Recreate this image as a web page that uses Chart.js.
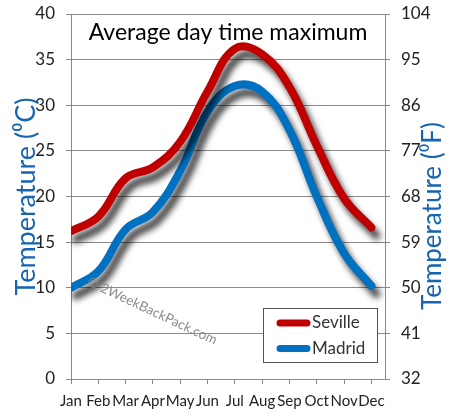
<!DOCTYPE html>
<html>
<head>
<meta charset="utf-8">
<script src="https://cdn.jsdelivr.net/npm/chart.js@4/dist/chart.umd.min.js"></script>
<style>
  html, body { margin: 0; padding: 0; background: #fff; }
  #wrap { width: 450px; height: 420px; }
</style>
</head>
<body>
<div id="wrap"><canvas id="c" width="450" height="420"></canvas></div>
<script>
const months = ['Jan','Feb','Mar','Apr','May','Jun','Jul','Aug','Sep','Oct','Nov','Dec'];
const seville = [16.2, 17.8, 22.0, 23.2, 26.0, 31.5, 36.2, 35.6, 32.0, 25.6, 19.8, 16.6];
const madrid = [10.0, 11.8, 16.4, 18.3, 22.8, 29.3, 32.1, 31.5, 27.3, 20.0, 13.8, 10.2];
const seriesNames = ['Seville', 'Madrid'];
const chartTitle = 'Average day time maximum';
const leftAxisTitle = 'Temperature (\u2070C)';
const rightAxisTitle = 'Temperature (\u2070F)';
const watermark = '\u00A9 2WeekBackPack.com';

const FONT = 'Lato';
const RED = '#C00000';
const BLUE = '#0070C0';
const GRID = '#8a8a8a';
const TXT = '#222';
const AXT = '#1565B0';

const toPts = arr => arr.map((v, i) => ({ x: i, y: v }));

const shadowPlugin = {
  id: 'shadow',
  beforeDatasetDraw(chart) {
    const ctx = chart.ctx;
    ctx.save();
    ctx.shadowColor = 'rgba(0,0,0,0.75)';
    ctx.shadowBlur = 6;
    ctx.shadowOffsetX = 5;
    ctx.shadowOffsetY = 8;
  },
  afterDatasetDraw(chart) { chart.ctx.restore(); }
};

const decorPlugin = {
  id: 'decor',
  afterDraw(chart) {
    const ctx = chart.ctx;
    // right axis title, reading bottom to top
    ctx.save();
    ctx.translate(433, 216);
    ctx.rotate(-Math.PI / 2);
    ctx.font = '26px ' + FONT;
    ctx.fillStyle = AXT;
    ctx.textAlign = 'center';
    ctx.textBaseline = 'middle';
    ctx.fillText(rightAxisTitle, 0, 0);
    ctx.restore();
  },
  afterDatasetsDraw(chart) {
    const ctx = chart.ctx, a = chart.chartArea;
    // watermark
    ctx.save();
    ctx.translate(88, 281);
    ctx.rotate(25 * Math.PI / 180);
    ctx.font = '13.5px ' + FONT;
    ctx.fillStyle = '#8c8c8c';
    ctx.textBaseline = 'middle';
    ctx.fillText(watermark, 0, 0);
    ctx.restore();
    // title
    ctx.save();
    ctx.font = '23px ' + FONT;
    ctx.fillStyle = '#000';
    ctx.textAlign = 'center';
    ctx.textBaseline = 'middle';
    ctx.fillText(chartTitle, (a.left + a.right) / 2, a.top + 19);
    ctx.restore();
    // legend box
    const bx = 263, by = 308, bw = 114, bh = 54;
    ctx.save();
    ctx.fillStyle = '#fff';
    ctx.fillRect(bx, by, bw, bh);
    ctx.strokeStyle = '#555';
    ctx.lineWidth = 1;
    ctx.strokeRect(bx + 0.5, by + 0.5, bw, bh);
    chart.data.datasets.forEach((ds, i) => {
      const y = by + 15 + i * 25.5;
      ctx.strokeStyle = ds.borderColor;
      ctx.lineWidth = 7;
      ctx.lineCap = 'round';
      ctx.beginPath();
      ctx.moveTo(bx + 17, y);
      ctx.lineTo(bx + 44, y);
      ctx.stroke();
      ctx.fillStyle = '#333';
      ctx.font = '17px ' + FONT;
      ctx.textBaseline = 'middle';
      ctx.fillText(ds.label, bx + 49, y);
    });
    ctx.restore();
  }
};

const fitY = w => s => { s.width = w; s.paddingTop = 0; s.paddingBottom = 0; };

new Chart(document.getElementById('c'), {
  type: 'line',
  data: {
    datasets: [
      { label: seriesNames[0], data: toPts(seville), borderColor: RED, yAxisID: 'y' },
      { label: seriesNames[1], data: toPts(madrid), borderColor: BLUE, yAxisID: 'y' }
    ]
  },
  options: {
    responsive: false,
    animation: false,
    devicePixelRatio: 1,
    layout: { padding: { top: 14, left: 0, right: 0, bottom: 0 } },
    elements: {
      line: { borderWidth: 8, tension: 0.4, borderCapStyle: 'round', borderJoinStyle: 'round', fill: false },
      point: { radius: 0, hoverRadius: 0 }
    },
    plugins: { legend: { display: false }, tooltip: { enabled: false }, title: { display: false } },
    scales: {
      x: {
        type: 'linear', min: 0, max: 11.5,
        afterFit: s => { s.height = 41; s.paddingLeft = 0; s.paddingRight = 0; },
        grid: { drawOnChartArea: false, drawTicks: true, tickLength: 5, color: GRID },
        border: { color: GRID },
        ticks: {
          stepSize: 1, includeBounds: false, autoSkip: false, maxRotation: 0, padding: 8,
          color: TXT, font: { family: FONT, size: 15 },
          callback: v => (Number.isInteger(v) && months[v]) ? months[v] : ''
        }
      },
      y: {
        position: 'left', min: 0, max: 40,
        afterFit: fitY(71),
        grid: { color: GRID, tickLength: 5 },
        border: { color: GRID },
        ticks: { stepSize: 5, padding: 11, color: TXT, font: { family: FONT, size: 17 } },
        title: { display: true, text: leftAxisTitle, color: AXT, font: { family: FONT, size: 27 }, padding: { top: 10 } }
      },
      y2: {
        position: 'right', min: 32, max: 104,
        afterFit: fitY(65),
        grid: { drawOnChartArea: false, color: GRID, tickLength: 5 },
        border: { color: GRID },
        ticks: { stepSize: 9, padding: 11, color: TXT, font: { family: FONT, size: 17 } },
        title: { display: false }
      }
    }
  },
  plugins: [shadowPlugin, decorPlugin]
});
</script>
</body>
</html>
